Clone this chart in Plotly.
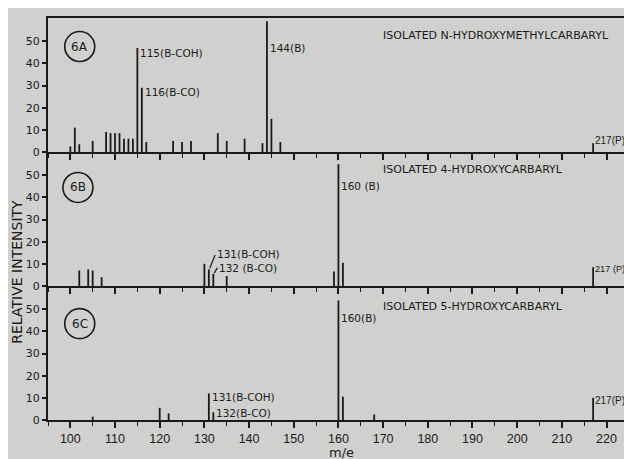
import plotly.graph_objects as go
from plotly.subplots import make_subplots

# ---- data (m/e, relative intensity) ----
mz_a = [100, 101, 102, 105, 108, 109, 110, 111, 112, 113, 114, 115, 116, 117,
        123, 125, 127, 133, 135, 139, 143, 144, 145, 147, 217]
int_a = [2.5, 11, 3.5, 5, 9, 8.5, 8.5, 8.5, 6, 6, 6, 47, 29, 4.5,
         5, 4.5, 5, 8.5, 5, 6, 4, 59, 15, 4.5, 4]

mz_b = [102, 104, 105, 107, 130, 131, 132, 135, 159, 160, 161, 217]
int_b = [7, 7.5, 7, 4, 10, 7.5, 5.5, 4.5, 6.5, 55, 10.5, 8.5]

mz_c = [105, 120, 122, 131, 132, 160, 161, 168, 217]
int_c = [1.5, 5.5, 3, 12, 3.5, 54, 10.5, 2.5, 10]

panel_ids = ["6A", "6B", "6C"]
panel_titles = ["ISOLATED N-HYDROXYMETHYLCARBARYL",
                "ISOLATED 4-HYDROXYCARBARYL",
                "ISOLATED 5-HYDROXYCARBARYL"]
y_ticks = [0, 10, 20, 30, 40, 50]
x_ticks = [100, 110, 120, 130, 140, 150, 160, 170, 180, 190, 200, 210, 220]

INK = "#1a1a1a"
BG = "#d0d0ce"
FONT = "DejaVu Sans"

fig = make_subplots(rows=3, cols=1, shared_xaxes=True, vertical_spacing=0)

for row, (mz, inten) in enumerate([(mz_a, int_a), (mz_b, int_b), (mz_c, int_c)], start=1):
    xs, ys = [], []
    for m, v in zip(mz, inten):
        xs += [m, m, None]
        ys += [0, v, None]
    fig.add_trace(go.Scatter(x=xs, y=ys, mode="lines",
                             line=dict(color=INK, width=1.8),
                             hoverinfo="skip", showlegend=False), row=row, col=1)

for row in (1, 2, 3):
    fig.update_yaxes(range=[0, 60.5], tickvals=y_ticks, ticks="outside", ticklen=4,
                     tickwidth=1.5, tickcolor=INK, showline=True, linecolor=INK,
                     linewidth=2, showgrid=False, zeroline=False,
                     tickfont=dict(family=FONT, size=11, color=INK), row=row, col=1)
    fig.update_xaxes(range=[95, 225.7], tickvals=x_ticks, ticks="outside", ticklen=6,
                     tickwidth=1.5, tickcolor=INK, showline=True, linecolor=INK,
                     linewidth=2, showgrid=False, zeroline=False,
                     minor=dict(dtick=5, tick0=95, ticks="outside", ticklen=4,
                                tickwidth=1.3, tickcolor=INK),
                     showticklabels=(row == 3),
                     tickfont=dict(family="Liberation Sans", size=12.5, color=INK),
                     row=row, col=1)
fig.update_xaxes(mirror=True, row=1, col=1)

# panel circles and titles
circ = [(102.1, 47.6), (101.7, 44.5), (102.1, 43.5)]
for i, (cx, cy) in enumerate(circ):
    xr = "x" if i == 0 else f"x{i+1}"
    yr = "y" if i == 0 else f"y{i+1}"
    fig.add_shape(type="circle", xref=xr, yref=yr, xsizemode="pixel", ysizemode="pixel",
                  xanchor=cx, yanchor=cy, x0=-15, x1=15, y0=-15, y1=15,
                  line=dict(color=INK, width=1.6))
    fig.add_annotation(x=cx, y=cy, xref=xr, yref=yr, text=panel_ids[i], showarrow=False,
                       font=dict(family=FONT, size=12, color=INK))
    fig.add_annotation(x=169.6, y=[52.6, 52.5, 51.3][i], xref=xr, yref=yr,
                       text=panel_titles[i], showarrow=False, xanchor="left",
                       font=dict(family=FONT, size=11, color=INK))

def lab(text, x, y, row, shift=3, size=10.5, family=FONT):
    xr = "x" if row == 1 else f"x{row}"
    yr = "y" if row == 1 else f"y{row}"
    fig.add_annotation(x=x, y=y, xref=xr, yref=yr, text=text, showarrow=False,
                       xanchor="left", xshift=shift, borderpad=0, borderwidth=0,
                       font=dict(family=family, size=size, color=INK))

NARROW = "Liberation Sans"
lab("115(B-COH)", 115, 44.7, 1)
lab("116(B-CO)", 116, 27.1, 1)
lab("144(B)", 144, 46.9, 1)
lab("217(P)", 217, 5.0, 1, shift=2, size=10, family=NARROW)

lab("160 (B)", 160, 45.3, 2)
lab("131(B-COH)", 132.6, 14.4, 2, shift=1)
lab("132 (B-CO)", 133.0, 8.0, 2, shift=1)
lab("217 (P)", 217, 7.6, 2, shift=2, size=9.2, family=NARROW)
fig.add_shape(type="line", xref="x2", yref="y2", x0=131.2, y0=8.0, x1=132.4, y1=14.0,
              line=dict(color=INK, width=1.2))
fig.add_shape(type="line", xref="x2", yref="y2", x0=132.2, y0=5.8, x1=132.9, y1=8.2,
              line=dict(color=INK, width=1.2))

lab("160(B)", 160, 46.0, 3)
lab("131(B-COH)", 131, 10.2, 3)
lab("132(B-CO)", 132, 3.1, 3)
lab("217(P)", 217, 8.9, 3, shift=2, size=10, family=NARROW)

fig.add_annotation(xref="paper", yref="paper", x=-0.053, y=0.369, text="RELATIVE INTENSITY",
                   textangle=-90, showarrow=False, xanchor="center", yanchor="middle",
                   font=dict(family=FONT, size=14, color=INK))
fig.add_annotation(xref="paper", yref="paper", x=0.503, y=-0.082, text="m/e",
                   showarrow=False, xanchor="center", yanchor="middle", borderpad=0,
                   font=dict(family=FONT, size=13, color=INK))

# page body has an 8px margin: margins compensate so the plot area lands where the reference has it
fig.update_layout(width=632, height=451, margin=dict(l=40, r=8, t=8, b=39),
                  paper_bgcolor=BG, plot_bgcolor=BG, showlegend=False)

fig.write_html("out.html")
